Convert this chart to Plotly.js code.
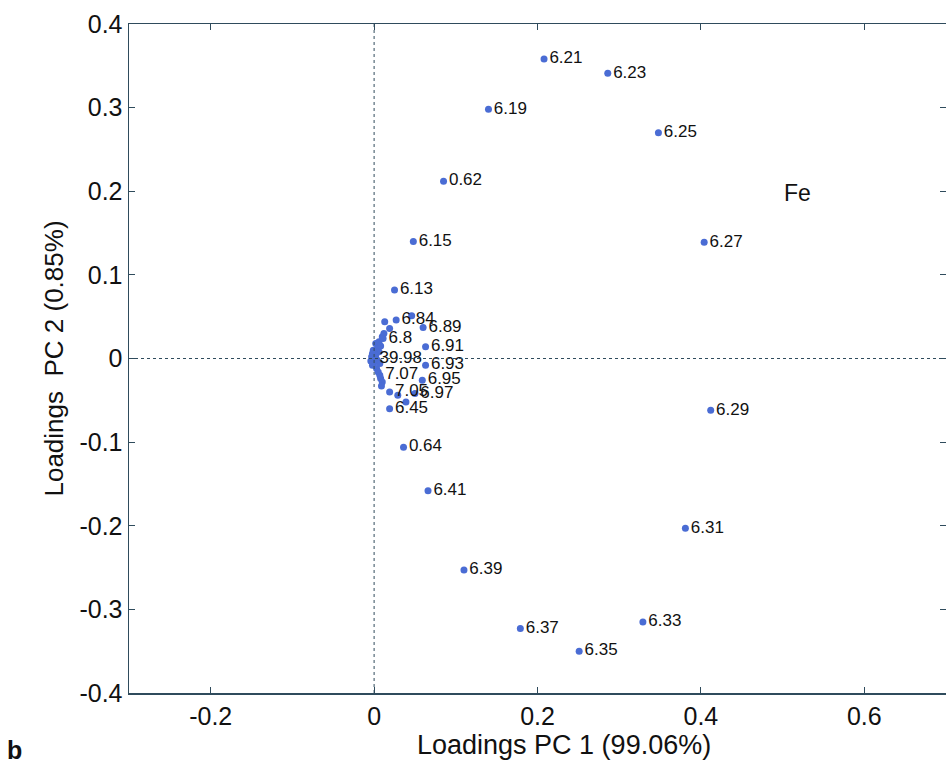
<!DOCTYPE html>
<html>
<head>
<meta charset="utf-8">
<script src="https://cdn.plot.ly/plotly-3.0.1.min.js"></script>
<style>
  html, body { margin: 0; padding: 0; background: #ffffff; }
  #chart { width: 946px; height: 767px; }
</style>
</head>
<body>
<div id="chart"></div>
<script>
// PCA loadings of the Fe spectra: labelled wavelengths
const labelNames = ["6.21", "6.23", "6.19", "6.25", "0.62", "6.27", "6.15", "6.13",
  "6.84", "6.89", "6.8", "6.91", "39.98", "6.93", "7.07", "6.95", "7.05", "6.97",
  "6.45", "0.64", "6.41", "6.29", "6.31", "6.39", "6.37", "6.33", "6.35"];
const labelPC1 = [0.208, 0.286, 0.140, 0.348, 0.085, 0.404, 0.048, 0.025,
  0.027, 0.060, 0.011, 0.063, 0.000, 0.063, 0.007, 0.059, 0.019, 0.050,
  0.019, 0.036, 0.066, 0.412, 0.381, 0.110, 0.179, 0.329, 0.251];
const labelPC2 = [0.358, 0.341, 0.298, 0.270, 0.212, 0.139, 0.140, 0.082,
  0.046, 0.037, 0.024, 0.014, 0.000, -0.008, -0.020, -0.026, -0.040, -0.042,
  -0.060, -0.106, -0.158, -0.062, -0.203, -0.253, -0.323, -0.315, -0.350];

// Remaining loadings crowded around the origin (no labels)
const clusterPC1 = [0.013, 0.019, 0.046, 0.029, 0.039, 0.002, 0.004, 0.006, -0.002,
  -0.003, 0.001, -0.002, 0.003, 0.005, 0.008, 0.010, 0.006, 0.008, 0.010, 0.004,
  0.002, 0.007, -0.004, -0.001, 0.012, 0.009];
const clusterPC2 = [0.044, 0.036, 0.051, -0.044, -0.052, 0.018, 0.012, 0.008, 0.006,
  0.002, -0.004, -0.008, -0.012, -0.016, -0.024, -0.028, 0.020, 0.015, 0.026, -0.002,
  0.004, -0.006, -0.003, 0.010, 0.030, -0.033];

const xTicks = [-0.2, 0, 0.2, 0.4, 0.6];
const xTickText = ["-0.2", "0", "0.2", "0.4", "0.6"];
const yTicks = [-0.4, -0.3, -0.2, -0.1, 0, 0.1, 0.2, 0.3, 0.4];
const yTickText = ["-0.4", "-0.3", "-0.2", "-0.1", "0", "0.1", "0.2", "0.3", "0.4"];

const markerColor = "#4a6cd4";
const axisColor = "#2f4b5c";
const font = "Liberation Sans, Arial, Helvetica, sans-serif";

const traces = [
  {
    type: "scatter", mode: "markers",
    x: clusterPC1, y: clusterPC2,
    marker: { color: markerColor, size: 7 },
    hoverinfo: "x+y"
  },
  {
    type: "scatter", mode: "markers+text",
    x: labelPC1, y: labelPC2, text: labelNames,
    textposition: "middle right",
    textfont: { family: font, size: 17, color: "#111111" },
    marker: { color: markerColor, size: 7 },
    cliponaxis: false
  }
];

const axisCommon = {
  showgrid: false, zeroline: false,
  showline: true, linecolor: axisColor, linewidth: 1.5,
  mirror: "ticks", ticks: "inside", ticklen: 6, tickcolor: axisColor,
  tickfont: { family: font, size: 25, color: "#111111" }
};

const layout = {
  width: 946, height: 767,
  margin: { l: 129, r: 0, t: 24, b: 74 },
  paper_bgcolor: "#ffffff", plot_bgcolor: "#ffffff",
  showlegend: false,
  xaxis: Object.assign({}, axisCommon, {
    range: [-0.3, 0.7], tickmode: "array", tickvals: xTicks, ticktext: xTickText
  }),
  yaxis: Object.assign({}, axisCommon, {
    range: [-0.4, 0.4], tickmode: "array", tickvals: yTicks, ticktext: yTickText,
    title: { text: "Loadings&#160;&#160;PC 2 (0.85%)", font: { family: font, size: 26, color: "#111111" }, standoff: 8 }
  }),
  shapes: [
    { type: "line", xref: "x", yref: "paper", x0: 0, x1: 0, y0: 0, y1: 1,
      line: { color: axisColor, width: 1, dash: "dot" } },
    { type: "line", xref: "paper", yref: "y", x0: 0, x1: 1, y0: 0, y1: 0,
      line: { color: axisColor, width: 1, dash: "dot" } }
  ],
  annotations: [
    { text: "Loadings PC 1 (99.06%)", xref: "paper", yref: "paper", x: 0.532, y: -0.078,
      xanchor: "center", yanchor: "middle", showarrow: false,
      font: { family: font, size: 27, color: "#111111" } },
    { text: "Fe", xref: "x", yref: "y", x: 0.518, y: 0.198, showarrow: false,
      font: { family: font, size: 23, color: "#111111" } },
    { text: "<b>b</b>", xref: "paper", yref: "paper", x: -0.152, y: -0.085,
      xanchor: "left", yanchor: "middle", showarrow: false,
      font: { family: font, size: 25, color: "#111111" } }
  ]
};

Plotly.newPlot("chart", traces, layout, { displayModeBar: false, staticPlot: true });
</script>
</body>
</html>
